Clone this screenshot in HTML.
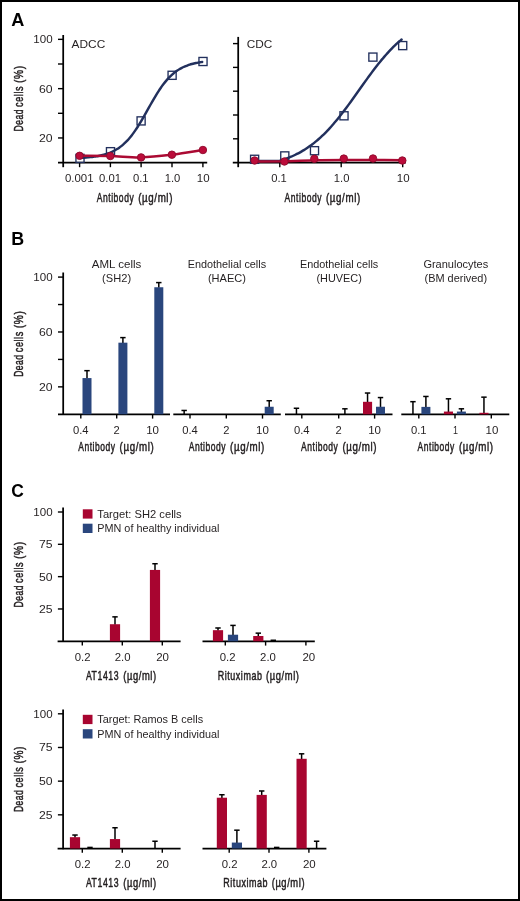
<!DOCTYPE html>
<html lang="en"><head><meta charset="utf-8"><title>Figure</title>
<style>
html,body{margin:0;padding:0;background:#fff;}
svg{display:block;font-family:'Liberation Sans', Arial, Helvetica, sans-serif;will-change:transform;}
</style></head>
<body>
<svg width="520" height="901" viewBox="0 0 520 901">
<rect x="0" y="0" width="520" height="901" fill="#fff"/>
<rect x="1" y="1" width="518" height="899" fill="none" stroke="#000" stroke-width="2"/>
<text x="11.2" y="25.6" font-size="17.8" font-weight="bold" fill="#000" textLength="13.1" lengthAdjust="spacingAndGlyphs">A</text>
<text x="11.2" y="244.5" font-size="17.8" font-weight="bold" fill="#000" textLength="12.9" lengthAdjust="spacingAndGlyphs">B</text>
<text x="11.2" y="496.7" font-size="18.2" font-weight="bold" fill="#000" textLength="12.6" lengthAdjust="spacingAndGlyphs">C</text>
<line x1="63.20" y1="35.00" x2="63.20" y2="167.20" stroke="#000" stroke-width="1.75" stroke-linecap="butt"/>
<line x1="58.00" y1="39.35" x2="63.30" y2="39.35" stroke="#000" stroke-width="1.4" stroke-linecap="butt"/>
<line x1="58.00" y1="64.00" x2="63.30" y2="64.00" stroke="#000" stroke-width="1.4" stroke-linecap="butt"/>
<line x1="58.00" y1="88.65" x2="63.30" y2="88.65" stroke="#000" stroke-width="1.4" stroke-linecap="butt"/>
<line x1="58.00" y1="113.30" x2="63.30" y2="113.30" stroke="#000" stroke-width="1.4" stroke-linecap="butt"/>
<line x1="58.00" y1="137.95" x2="63.30" y2="137.95" stroke="#000" stroke-width="1.4" stroke-linecap="butt"/>
<text x="52.60" y="43.30" font-size="11.0" text-anchor="end" fill="#231f20" textLength="19.30" lengthAdjust="spacingAndGlyphs">100</text>
<text x="52.60" y="92.60" font-size="11.0" text-anchor="end" fill="#231f20" textLength="13.60" lengthAdjust="spacingAndGlyphs">60</text>
<text x="52.60" y="141.90" font-size="11.0" text-anchor="end" fill="#231f20" textLength="13.60" lengthAdjust="spacingAndGlyphs">20</text>
<line x1="58.00" y1="162.60" x2="207.20" y2="162.60" stroke="#000" stroke-width="1.75" stroke-linecap="butt"/>
<line x1="79.60" y1="162.60" x2="79.60" y2="167.20" stroke="#000" stroke-width="1.4" stroke-linecap="butt"/>
<line x1="110.40" y1="162.60" x2="110.40" y2="167.20" stroke="#000" stroke-width="1.4" stroke-linecap="butt"/>
<line x1="141.10" y1="162.60" x2="141.10" y2="167.20" stroke="#000" stroke-width="1.4" stroke-linecap="butt"/>
<line x1="172.00" y1="162.60" x2="172.00" y2="167.20" stroke="#000" stroke-width="1.4" stroke-linecap="butt"/>
<line x1="202.90" y1="162.60" x2="202.90" y2="167.20" stroke="#000" stroke-width="1.4" stroke-linecap="butt"/>
<text x="79.20" y="182.20" font-size="11.0" text-anchor="middle" fill="#231f20" textLength="28.60" lengthAdjust="spacingAndGlyphs">0.001</text>
<text x="110.00" y="182.20" font-size="11.0" text-anchor="middle" fill="#231f20" textLength="22.00" lengthAdjust="spacingAndGlyphs">0.01</text>
<text x="140.70" y="182.20" font-size="11.0" text-anchor="middle" fill="#231f20" textLength="15.60" lengthAdjust="spacingAndGlyphs">0.1</text>
<text x="172.50" y="182.20" font-size="11.0" text-anchor="middle" fill="#231f20" textLength="15.60" lengthAdjust="spacingAndGlyphs">1.0</text>
<text x="203.20" y="182.20" font-size="11.0" text-anchor="middle" fill="#231f20" textLength="12.80" lengthAdjust="spacingAndGlyphs">10</text>
<text x="71.60" y="48.40" font-size="11.0" text-anchor="start" fill="#231f20" textLength="33.60" lengthAdjust="spacingAndGlyphs">ADCC</text>
<text y="202.20" font-size="12.8" fill="#231f20" stroke="#231f20" stroke-width="0.5" stroke-linejoin="round" letter-spacing="0.8"><tspan x="96.80" textLength="37.40" lengthAdjust="spacingAndGlyphs">Antibody</tspan> <tspan x="138.20" textLength="34.80" lengthAdjust="spacingAndGlyphs">(µg/ml)</tspan></text>
<text y="98.70" font-size="13.4" fill="#231f20" stroke="#231f20" stroke-width="0.5" stroke-linejoin="round" letter-spacing="0.8" transform="rotate(-90 23.40 98.70)"><tspan x="-9.40" textLength="22.40" lengthAdjust="spacingAndGlyphs">Dead</tspan> <tspan x="15.20" textLength="21.00" lengthAdjust="spacingAndGlyphs">cells</tspan> <tspan x="39.20" textLength="17.60" lengthAdjust="spacingAndGlyphs">(%)</tspan></text>
<path d="M79.80,157.92 C80.15,157.90 81.18,157.85 81.87,157.81 C82.57,157.76 83.26,157.72 83.95,157.67 C84.64,157.63 85.33,157.58 86.02,157.52 C86.72,157.47 87.41,157.41 88.10,157.35 C88.79,157.28 89.48,157.22 90.17,157.14 C90.86,157.07 91.56,156.99 92.25,156.91 C92.94,156.82 93.63,156.73 94.32,156.64 C95.01,156.54 95.71,156.43 96.40,156.32 C97.09,156.21 97.78,156.09 98.47,155.96 C99.16,155.83 99.85,155.69 100.55,155.54 C101.24,155.39 101.93,155.23 102.62,155.06 C103.31,154.88 104.00,154.70 104.69,154.50 C105.39,154.31 106.08,154.09 106.77,153.87 C107.46,153.64 108.15,153.40 108.84,153.14 C109.54,152.88 110.23,152.60 110.92,152.31 C111.61,152.01 112.30,151.70 112.99,151.36 C113.68,151.02 114.38,150.66 115.07,150.28 C115.76,149.89 116.45,149.49 117.14,149.05 C117.83,148.62 118.53,148.16 119.22,147.67 C119.91,147.19 120.60,146.67 121.29,146.12 C121.98,145.58 122.67,145.00 123.37,144.39 C124.06,143.78 124.75,143.13 125.44,142.46 C126.13,141.78 126.82,141.07 127.52,140.32 C128.21,139.57 128.90,138.79 129.59,137.97 C130.28,137.15 130.97,136.30 131.66,135.41 C132.36,134.52 133.05,133.59 133.74,132.63 C134.43,131.67 135.12,130.68 135.81,129.65 C136.51,128.63 137.20,127.57 137.89,126.49 C138.58,125.40 139.27,124.28 139.96,123.15 C140.65,122.01 141.35,120.84 142.04,119.66 C142.73,118.49 143.42,117.28 144.11,116.07 C144.80,114.86 145.49,113.63 146.19,112.40 C146.88,111.18 147.57,109.93 148.26,108.70 C148.95,107.47 149.64,106.23 150.34,105.01 C151.03,103.78 151.72,102.56 152.41,101.36 C153.10,100.16 153.79,98.97 154.48,97.80 C155.18,96.64 155.87,95.49 156.56,94.37 C157.25,93.25 157.94,92.15 158.63,91.09 C159.33,90.02 160.02,88.99 160.71,87.98 C161.40,86.98 162.09,86.01 162.78,85.08 C163.47,84.14 164.17,83.24 164.86,82.38 C165.55,81.51 166.24,80.68 166.93,79.89 C167.62,79.09 168.32,78.34 169.01,77.61 C169.70,76.89 170.39,76.21 171.08,75.55 C171.77,74.90 172.46,74.28 173.16,73.69 C173.85,73.10 174.54,72.55 175.23,72.02 C175.92,71.49 176.61,71.00 177.31,70.53 C178.00,70.06 178.69,69.62 179.38,69.21 C180.07,68.79 180.76,68.40 181.45,68.04 C182.15,67.67 182.84,67.33 183.53,67.01 C184.22,66.68 184.91,66.38 185.60,66.10 C186.29,65.82 186.99,65.55 187.68,65.30 C188.37,65.06 189.06,64.83 189.75,64.61 C190.44,64.39 191.14,64.19 191.83,64.00 C192.52,63.82 193.21,63.64 193.90,63.48 C194.59,63.31 195.28,63.16 195.98,63.02 C196.67,62.88 197.36,62.74 198.05,62.62 C198.74,62.50 199.43,62.38 200.13,62.27 C200.82,62.17 201.85,62.03 202.20,61.98" fill="none" stroke="#22305d" stroke-width="2.45" stroke-linecap="round" stroke-linejoin="round"/>
<rect x="75.95" y="154.35" width="8.1" height="8.1" fill="none" stroke="#22305d" stroke-width="1.35"/>
<rect x="106.45" y="147.65" width="8.1" height="8.1" fill="none" stroke="#22305d" stroke-width="1.35"/>
<rect x="137.05" y="116.85" width="8.1" height="8.1" fill="none" stroke="#22305d" stroke-width="1.35"/>
<rect x="168.05" y="71.25" width="8.1" height="8.1" fill="none" stroke="#22305d" stroke-width="1.35"/>
<rect x="198.95" y="57.45" width="8.1" height="8.1" fill="none" stroke="#22305d" stroke-width="1.35"/>
<path d="M79.60,155.80 C84.72,155.83 100.05,155.73 110.30,156.00 C120.55,156.27 130.83,157.62 141.10,157.40 C151.37,157.18 161.60,155.93 171.90,154.70 C182.20,153.47 197.73,150.78 202.90,150.00" fill="none" stroke="#ab0a33" stroke-width="2.45" stroke-linecap="round" stroke-linejoin="round"/>
<circle cx="79.60" cy="155.80" r="3.75" fill="#bb0c3a" stroke="#8e0a2c" stroke-width="0.9"/>
<circle cx="110.30" cy="156.00" r="3.75" fill="#bb0c3a" stroke="#8e0a2c" stroke-width="0.9"/>
<circle cx="141.10" cy="157.40" r="3.75" fill="#bb0c3a" stroke="#8e0a2c" stroke-width="0.9"/>
<circle cx="171.90" cy="154.70" r="3.75" fill="#bb0c3a" stroke="#8e0a2c" stroke-width="0.9"/>
<circle cx="202.90" cy="150.00" r="3.75" fill="#bb0c3a" stroke="#8e0a2c" stroke-width="0.9"/>
<line x1="238.20" y1="36.90" x2="238.20" y2="167.20" stroke="#000" stroke-width="1.75" stroke-linecap="butt"/>
<line x1="233.00" y1="43.60" x2="238.30" y2="43.60" stroke="#000" stroke-width="1.4" stroke-linecap="butt"/>
<line x1="233.00" y1="67.40" x2="238.30" y2="67.40" stroke="#000" stroke-width="1.4" stroke-linecap="butt"/>
<line x1="233.00" y1="91.20" x2="238.30" y2="91.20" stroke="#000" stroke-width="1.4" stroke-linecap="butt"/>
<line x1="233.00" y1="115.00" x2="238.30" y2="115.00" stroke="#000" stroke-width="1.4" stroke-linecap="butt"/>
<line x1="233.00" y1="138.80" x2="238.30" y2="138.80" stroke="#000" stroke-width="1.4" stroke-linecap="butt"/>
<line x1="232.80" y1="162.60" x2="405.80" y2="162.60" stroke="#000" stroke-width="1.75" stroke-linecap="butt"/>
<line x1="279.80" y1="162.60" x2="279.80" y2="167.20" stroke="#000" stroke-width="1.4" stroke-linecap="butt"/>
<line x1="341.20" y1="162.60" x2="341.20" y2="167.20" stroke="#000" stroke-width="1.4" stroke-linecap="butt"/>
<line x1="402.70" y1="162.60" x2="402.70" y2="167.20" stroke="#000" stroke-width="1.4" stroke-linecap="butt"/>
<text x="279.00" y="182.10" font-size="11.0" text-anchor="middle" fill="#231f20" textLength="15.60" lengthAdjust="spacingAndGlyphs">0.1</text>
<text x="341.60" y="182.10" font-size="11.0" text-anchor="middle" fill="#231f20" textLength="15.60" lengthAdjust="spacingAndGlyphs">1.0</text>
<text x="403.20" y="182.10" font-size="11.0" text-anchor="middle" fill="#231f20" textLength="12.80" lengthAdjust="spacingAndGlyphs">10</text>
<text x="246.80" y="48.20" font-size="11.0" text-anchor="start" fill="#231f20" textLength="25.60" lengthAdjust="spacingAndGlyphs">CDC</text>
<text y="201.90" font-size="12.8" fill="#231f20" stroke="#231f20" stroke-width="0.5" stroke-linejoin="round" letter-spacing="0.8"><tspan x="284.60" textLength="37.40" lengthAdjust="spacingAndGlyphs">Antibody</tspan> <tspan x="326.00" textLength="34.80" lengthAdjust="spacingAndGlyphs">(µg/ml)</tspan></text>
<path d="M255.00,161.05 C255.35,161.05 256.42,161.05 257.12,161.05 C257.83,161.05 258.54,161.05 259.25,161.05 C259.96,161.05 260.67,161.05 261.37,161.05 C262.08,161.05 262.79,161.05 263.50,161.05 C264.21,161.05 264.91,161.05 265.62,161.05 C266.33,161.05 267.04,161.05 267.75,161.05 C268.46,161.05 269.16,161.05 269.87,161.05 C270.58,161.05 271.29,161.05 272.00,161.05 C272.71,161.05 273.41,161.05 274.12,161.05 C274.83,161.05 275.54,161.05 276.25,161.05 C276.95,161.05 277.66,161.13 278.37,161.05 C279.08,160.97 279.79,160.77 280.50,160.58 C281.20,160.39 281.91,160.13 282.62,159.90 C283.33,159.67 284.04,159.42 284.74,159.17 C285.45,158.92 286.16,158.67 286.87,158.40 C287.58,158.13 288.29,157.86 288.99,157.57 C289.70,157.29 290.41,156.99 291.12,156.69 C291.83,156.39 292.54,156.08 293.24,155.75 C293.95,155.43 294.66,155.10 295.37,154.75 C296.08,154.41 296.78,154.06 297.49,153.69 C298.20,153.33 298.91,152.95 299.62,152.57 C300.33,152.18 301.03,151.78 301.74,151.37 C302.45,150.96 303.16,150.54 303.87,150.10 C304.57,149.67 305.28,149.22 305.99,148.76 C306.70,148.30 307.41,147.83 308.12,147.34 C308.82,146.86 309.53,146.36 310.24,145.85 C310.95,145.33 311.66,144.81 312.37,144.27 C313.07,143.73 313.78,143.18 314.49,142.61 C315.20,142.04 315.91,141.46 316.61,140.86 C317.32,140.27 318.03,139.66 318.74,139.03 C319.45,138.41 320.16,137.77 320.86,137.12 C321.57,136.46 322.28,135.80 322.99,135.11 C323.70,134.43 324.40,133.73 325.11,133.02 C325.82,132.31 326.53,131.58 327.24,130.84 C327.95,130.10 328.65,129.35 329.36,128.58 C330.07,127.81 330.78,127.03 331.49,126.24 C332.20,125.44 332.90,124.63 333.61,123.81 C334.32,122.99 335.03,122.15 335.74,121.30 C336.44,120.45 337.15,119.59 337.86,118.72 C338.57,117.85 339.28,116.96 339.99,116.07 C340.69,115.17 341.40,114.27 342.11,113.35 C342.82,112.44 343.53,111.51 344.23,110.58 C344.94,109.64 345.65,108.70 346.36,107.75 C347.07,106.79 347.78,105.83 348.48,104.87 C349.19,103.90 349.90,102.93 350.61,101.95 C351.32,100.97 352.03,99.99 352.73,99.00 C353.44,98.01 354.15,97.02 354.86,96.03 C355.57,95.03 356.27,94.03 356.98,93.04 C357.69,92.04 358.40,91.04 359.11,90.04 C359.82,89.04 360.52,88.04 361.23,87.04 C361.94,86.04 362.65,85.05 363.36,84.05 C364.06,83.06 364.77,82.07 365.48,81.08 C366.19,80.10 366.90,79.11 367.61,78.14 C368.31,77.16 369.02,76.19 369.73,75.23 C370.44,74.27 371.15,73.31 371.86,72.36 C372.56,71.41 373.27,70.47 373.98,69.54 C374.69,68.61 375.40,67.69 376.10,66.78 C376.81,65.86 377.52,64.96 378.23,64.07 C378.94,63.18 379.65,62.30 380.35,61.43 C381.06,60.57 381.77,59.71 382.48,58.87 C383.19,58.03 383.89,57.20 384.60,56.38 C385.31,55.56 386.02,54.76 386.73,53.97 C387.44,53.18 388.14,52.40 388.85,51.64 C389.56,50.88 390.27,50.13 390.98,49.39 C391.69,48.66 392.39,47.94 393.10,47.23 C393.81,46.53 394.52,45.84 395.23,45.16 C395.93,44.48 396.64,43.82 397.35,43.17 C398.06,42.53 398.77,41.89 399.48,41.28 C400.18,40.66 401.25,39.77 401.60,39.46" fill="none" stroke="#22305d" stroke-width="2.45" stroke-linecap="round" stroke-linejoin="round"/>
<rect x="250.55" y="155.25" width="8.1" height="8.1" fill="none" stroke="#22305d" stroke-width="1.35"/>
<rect x="280.75" y="151.85" width="8.1" height="8.1" fill="none" stroke="#22305d" stroke-width="1.35"/>
<rect x="310.45" y="146.65" width="8.1" height="8.1" fill="none" stroke="#22305d" stroke-width="1.35"/>
<rect x="339.95" y="111.75" width="8.1" height="8.1" fill="none" stroke="#22305d" stroke-width="1.35"/>
<rect x="368.85" y="53.05" width="8.1" height="8.1" fill="none" stroke="#22305d" stroke-width="1.35"/>
<rect x="398.65" y="41.55" width="8.1" height="8.1" fill="none" stroke="#22305d" stroke-width="1.35"/>
<path d="M254.60,161.50 C259.50,161.48 276.43,161.53 284.00,161.40 C291.57,161.27 294.00,160.90 300.00,160.70 C306.00,160.50 312.50,160.32 320.00,160.20 C327.50,160.08 335.83,160.03 345.00,160.00 C354.17,159.97 365.45,159.95 375.00,160.00 C384.55,160.05 397.75,160.25 402.30,160.30" fill="none" stroke="#ab0a33" stroke-width="2.45" stroke-linecap="round" stroke-linejoin="round"/>
<circle cx="254.60" cy="160.50" r="3.75" fill="#bb0c3a" stroke="#8e0a2c" stroke-width="0.9"/>
<circle cx="284.40" cy="161.50" r="3.75" fill="#bb0c3a" stroke="#8e0a2c" stroke-width="0.9"/>
<circle cx="314.30" cy="158.80" r="3.75" fill="#bb0c3a" stroke="#8e0a2c" stroke-width="0.9"/>
<circle cx="343.80" cy="158.60" r="3.75" fill="#bb0c3a" stroke="#8e0a2c" stroke-width="0.9"/>
<circle cx="373.00" cy="158.50" r="3.75" fill="#bb0c3a" stroke="#8e0a2c" stroke-width="0.9"/>
<circle cx="402.30" cy="160.50" r="3.75" fill="#bb0c3a" stroke="#8e0a2c" stroke-width="0.9"/>
<line x1="63.20" y1="272.50" x2="63.20" y2="415.00" stroke="#000" stroke-width="1.75" stroke-linecap="butt"/>
<line x1="58.00" y1="277.10" x2="63.30" y2="277.10" stroke="#000" stroke-width="1.4" stroke-linecap="butt"/>
<line x1="58.00" y1="304.54" x2="63.30" y2="304.54" stroke="#000" stroke-width="1.4" stroke-linecap="butt"/>
<line x1="58.00" y1="331.98" x2="63.30" y2="331.98" stroke="#000" stroke-width="1.4" stroke-linecap="butt"/>
<line x1="58.00" y1="359.42" x2="63.30" y2="359.42" stroke="#000" stroke-width="1.4" stroke-linecap="butt"/>
<line x1="58.00" y1="386.86" x2="63.30" y2="386.86" stroke="#000" stroke-width="1.4" stroke-linecap="butt"/>
<text x="52.60" y="281.05" font-size="11.0" text-anchor="end" fill="#231f20" textLength="19.30" lengthAdjust="spacingAndGlyphs">100</text>
<text x="52.60" y="335.93" font-size="11.0" text-anchor="end" fill="#231f20" textLength="13.60" lengthAdjust="spacingAndGlyphs">60</text>
<text x="52.60" y="390.81" font-size="11.0" text-anchor="end" fill="#231f20" textLength="13.60" lengthAdjust="spacingAndGlyphs">20</text>
<text y="344.00" font-size="13.4" fill="#231f20" stroke="#231f20" stroke-width="0.5" stroke-linejoin="round" letter-spacing="0.8" transform="rotate(-90 23.40 344.00)"><tspan x="-9.40" textLength="22.40" lengthAdjust="spacingAndGlyphs">Dead</tspan> <tspan x="15.20" textLength="21.00" lengthAdjust="spacingAndGlyphs">cells</tspan> <tspan x="39.20" textLength="17.60" lengthAdjust="spacingAndGlyphs">(%)</tspan></text>
<line x1="58.00" y1="414.30" x2="170.00" y2="414.30" stroke="#000" stroke-width="1.75" stroke-linecap="butt"/>
<line x1="80.80" y1="414.30" x2="80.80" y2="418.60" stroke="#000" stroke-width="1.4" stroke-linecap="butt"/>
<line x1="116.70" y1="414.30" x2="116.70" y2="418.60" stroke="#000" stroke-width="1.4" stroke-linecap="butt"/>
<line x1="152.60" y1="414.30" x2="152.60" y2="418.60" stroke="#000" stroke-width="1.4" stroke-linecap="butt"/>
<text x="80.80" y="433.70" font-size="11.0" text-anchor="middle" fill="#231f20" textLength="15.60" lengthAdjust="spacingAndGlyphs">0.4</text>
<text x="116.70" y="433.70" font-size="11.0" text-anchor="middle" fill="#231f20" textLength="6.20" lengthAdjust="spacingAndGlyphs">2</text>
<text x="152.60" y="433.70" font-size="11.0" text-anchor="middle" fill="#231f20" textLength="12.80" lengthAdjust="spacingAndGlyphs">10</text>
<text x="116.60" y="267.80" font-size="11.0" text-anchor="middle" fill="#231f20" textLength="49.60" lengthAdjust="spacingAndGlyphs">AML cells</text>
<text x="116.60" y="281.50" font-size="11.0" text-anchor="middle" fill="#231f20" textLength="29.00" lengthAdjust="spacingAndGlyphs">(SH2)</text>
<text y="451.00" font-size="12.8" fill="#231f20" stroke="#231f20" stroke-width="0.5" stroke-linejoin="round" letter-spacing="0.8"><tspan x="78.20" textLength="37.40" lengthAdjust="spacingAndGlyphs">Antibody</tspan> <tspan x="119.60" textLength="34.80" lengthAdjust="spacingAndGlyphs">(µg/ml)</tspan></text>
<line x1="87.00" y1="370.67" x2="87.00" y2="378.58" stroke="#000" stroke-width="1.5" stroke-linecap="butt"/>
<line x1="84.30" y1="370.67" x2="89.70" y2="370.67" stroke="#000" stroke-width="1.5" stroke-linecap="butt"/>
<rect x="82.50" y="378.08" width="9.00" height="36.22" fill="#2a467d"/>
<line x1="122.90" y1="337.61" x2="122.90" y2="343.18" stroke="#000" stroke-width="1.5" stroke-linecap="butt"/>
<line x1="120.20" y1="337.61" x2="125.60" y2="337.61" stroke="#000" stroke-width="1.5" stroke-linecap="butt"/>
<rect x="118.40" y="342.68" width="9.00" height="71.62" fill="#2a467d"/>
<line x1="158.80" y1="282.59" x2="158.80" y2="287.75" stroke="#000" stroke-width="1.5" stroke-linecap="butt"/>
<line x1="156.10" y1="282.59" x2="161.50" y2="282.59" stroke="#000" stroke-width="1.5" stroke-linecap="butt"/>
<rect x="154.30" y="287.25" width="9.00" height="127.05" fill="#2a467d"/>
<line x1="173.30" y1="414.30" x2="280.80" y2="414.30" stroke="#000" stroke-width="1.75" stroke-linecap="butt"/>
<line x1="190.00" y1="414.30" x2="190.00" y2="418.60" stroke="#000" stroke-width="1.4" stroke-linecap="butt"/>
<line x1="226.30" y1="414.30" x2="226.30" y2="418.60" stroke="#000" stroke-width="1.4" stroke-linecap="butt"/>
<line x1="262.50" y1="414.30" x2="262.50" y2="418.60" stroke="#000" stroke-width="1.4" stroke-linecap="butt"/>
<text x="190.00" y="433.70" font-size="11.0" text-anchor="middle" fill="#231f20" textLength="15.60" lengthAdjust="spacingAndGlyphs">0.4</text>
<text x="226.30" y="433.70" font-size="11.0" text-anchor="middle" fill="#231f20" textLength="6.20" lengthAdjust="spacingAndGlyphs">2</text>
<text x="262.50" y="433.70" font-size="11.0" text-anchor="middle" fill="#231f20" textLength="12.80" lengthAdjust="spacingAndGlyphs">10</text>
<text x="226.90" y="267.80" font-size="11.0" text-anchor="middle" fill="#231f20" textLength="78.40" lengthAdjust="spacingAndGlyphs">Endothelial cells</text>
<text x="226.90" y="281.50" font-size="11.0" text-anchor="middle" fill="#231f20" textLength="38.00" lengthAdjust="spacingAndGlyphs">(HAEC)</text>
<text y="451.00" font-size="12.8" fill="#231f20" stroke="#231f20" stroke-width="0.5" stroke-linejoin="round" letter-spacing="0.8"><tspan x="188.70" textLength="37.40" lengthAdjust="spacingAndGlyphs">Antibody</tspan> <tspan x="230.10" textLength="34.80" lengthAdjust="spacingAndGlyphs">(µg/ml)</tspan></text>
<line x1="184.15" y1="410.46" x2="184.15" y2="414.30" stroke="#000" stroke-width="1.5" stroke-linecap="butt"/>
<line x1="181.45" y1="410.46" x2="186.85" y2="410.46" stroke="#000" stroke-width="1.5" stroke-linecap="butt"/>
<rect x="179.60" y="414.30" width="9.10" height="0.00" fill="#a80530"/>
<line x1="269.20" y1="400.72" x2="269.20" y2="407.25" stroke="#000" stroke-width="1.5" stroke-linecap="butt"/>
<line x1="266.50" y1="400.72" x2="271.90" y2="400.72" stroke="#000" stroke-width="1.5" stroke-linecap="butt"/>
<rect x="264.70" y="406.75" width="9.00" height="7.55" fill="#2a467d"/>
<line x1="285.00" y1="414.30" x2="392.50" y2="414.30" stroke="#000" stroke-width="1.75" stroke-linecap="butt"/>
<line x1="301.80" y1="414.30" x2="301.80" y2="418.60" stroke="#000" stroke-width="1.4" stroke-linecap="butt"/>
<line x1="338.70" y1="414.30" x2="338.70" y2="418.60" stroke="#000" stroke-width="1.4" stroke-linecap="butt"/>
<line x1="374.60" y1="414.30" x2="374.60" y2="418.60" stroke="#000" stroke-width="1.4" stroke-linecap="butt"/>
<text x="301.80" y="433.70" font-size="11.0" text-anchor="middle" fill="#231f20" textLength="15.60" lengthAdjust="spacingAndGlyphs">0.4</text>
<text x="338.70" y="433.70" font-size="11.0" text-anchor="middle" fill="#231f20" textLength="6.20" lengthAdjust="spacingAndGlyphs">2</text>
<text x="374.60" y="433.70" font-size="11.0" text-anchor="middle" fill="#231f20" textLength="12.80" lengthAdjust="spacingAndGlyphs">10</text>
<text x="339.10" y="267.80" font-size="11.0" text-anchor="middle" fill="#231f20" textLength="78.40" lengthAdjust="spacingAndGlyphs">Endothelial cells</text>
<text x="339.10" y="281.50" font-size="11.0" text-anchor="middle" fill="#231f20" textLength="45.40" lengthAdjust="spacingAndGlyphs">(HUVEC)</text>
<text y="451.00" font-size="12.8" fill="#231f20" stroke="#231f20" stroke-width="0.5" stroke-linejoin="round" letter-spacing="0.8"><tspan x="301.00" textLength="37.40" lengthAdjust="spacingAndGlyphs">Antibody</tspan> <tspan x="342.40" textLength="34.80" lengthAdjust="spacingAndGlyphs">(µg/ml)</tspan></text>
<line x1="296.45" y1="408.26" x2="296.45" y2="414.30" stroke="#000" stroke-width="1.5" stroke-linecap="butt"/>
<line x1="293.75" y1="408.26" x2="299.15" y2="408.26" stroke="#000" stroke-width="1.5" stroke-linecap="butt"/>
<rect x="291.90" y="414.30" width="9.10" height="0.00" fill="#a80530"/>
<line x1="344.90" y1="408.81" x2="344.90" y2="414.30" stroke="#000" stroke-width="1.5" stroke-linecap="butt"/>
<line x1="342.20" y1="408.81" x2="347.60" y2="408.81" stroke="#000" stroke-width="1.5" stroke-linecap="butt"/>
<rect x="340.40" y="414.30" width="9.00" height="0.00" fill="#2a467d"/>
<line x1="367.55" y1="393.03" x2="367.55" y2="402.31" stroke="#000" stroke-width="1.5" stroke-linecap="butt"/>
<line x1="364.85" y1="393.03" x2="370.25" y2="393.03" stroke="#000" stroke-width="1.5" stroke-linecap="butt"/>
<rect x="363.00" y="401.81" width="9.10" height="12.49" fill="#a80530"/>
<line x1="380.50" y1="397.56" x2="380.50" y2="407.25" stroke="#000" stroke-width="1.5" stroke-linecap="butt"/>
<line x1="377.80" y1="397.56" x2="383.20" y2="397.56" stroke="#000" stroke-width="1.5" stroke-linecap="butt"/>
<rect x="376.00" y="406.75" width="9.00" height="7.55" fill="#2a467d"/>
<line x1="401.30" y1="414.30" x2="509.30" y2="414.30" stroke="#000" stroke-width="1.75" stroke-linecap="butt"/>
<line x1="418.80" y1="414.30" x2="418.80" y2="418.60" stroke="#000" stroke-width="1.4" stroke-linecap="butt"/>
<line x1="455.00" y1="414.30" x2="455.00" y2="418.60" stroke="#000" stroke-width="1.4" stroke-linecap="butt"/>
<line x1="491.30" y1="414.30" x2="491.30" y2="418.60" stroke="#000" stroke-width="1.4" stroke-linecap="butt"/>
<text x="418.80" y="433.70" font-size="11.0" text-anchor="middle" fill="#231f20" textLength="15.60" lengthAdjust="spacingAndGlyphs">0.1</text>
<text x="455.40" y="433.70" font-size="11.0" text-anchor="middle" fill="#231f20" textLength="5.00" lengthAdjust="spacingAndGlyphs">1</text>
<text x="491.90" y="433.70" font-size="11.0" text-anchor="middle" fill="#231f20" textLength="12.80" lengthAdjust="spacingAndGlyphs">10</text>
<text x="455.80" y="267.80" font-size="11.0" text-anchor="middle" fill="#231f20" textLength="64.80" lengthAdjust="spacingAndGlyphs">Granulocytes</text>
<text x="455.80" y="281.50" font-size="11.0" text-anchor="middle" fill="#231f20" textLength="62.60" lengthAdjust="spacingAndGlyphs">(BM derived)</text>
<text y="451.00" font-size="12.8" fill="#231f20" stroke="#231f20" stroke-width="0.5" stroke-linejoin="round" letter-spacing="0.8"><tspan x="417.50" textLength="37.40" lengthAdjust="spacingAndGlyphs">Antibody</tspan> <tspan x="458.90" textLength="34.80" lengthAdjust="spacingAndGlyphs">(µg/ml)</tspan></text>
<line x1="412.95" y1="401.68" x2="412.95" y2="414.30" stroke="#000" stroke-width="1.5" stroke-linecap="butt"/>
<line x1="410.25" y1="401.68" x2="415.65" y2="401.68" stroke="#000" stroke-width="1.5" stroke-linecap="butt"/>
<rect x="408.40" y="414.30" width="9.10" height="0.00" fill="#a80530"/>
<line x1="425.90" y1="396.46" x2="425.90" y2="407.39" stroke="#000" stroke-width="1.5" stroke-linecap="butt"/>
<line x1="423.20" y1="396.46" x2="428.60" y2="396.46" stroke="#000" stroke-width="1.5" stroke-linecap="butt"/>
<rect x="421.40" y="406.89" width="9.00" height="7.41" fill="#2a467d"/>
<line x1="448.45" y1="398.80" x2="448.45" y2="412.06" stroke="#000" stroke-width="1.5" stroke-linecap="butt"/>
<line x1="445.75" y1="398.80" x2="451.15" y2="398.80" stroke="#000" stroke-width="1.5" stroke-linecap="butt"/>
<rect x="443.90" y="411.56" width="9.10" height="2.74" fill="#a80530"/>
<line x1="461.40" y1="408.81" x2="461.40" y2="412.06" stroke="#000" stroke-width="1.5" stroke-linecap="butt"/>
<line x1="458.70" y1="408.81" x2="464.10" y2="408.81" stroke="#000" stroke-width="1.5" stroke-linecap="butt"/>
<rect x="456.90" y="411.56" width="9.00" height="2.74" fill="#2a467d"/>
<line x1="483.95" y1="397.15" x2="483.95" y2="413.29" stroke="#000" stroke-width="1.5" stroke-linecap="butt"/>
<line x1="481.25" y1="397.15" x2="486.65" y2="397.15" stroke="#000" stroke-width="1.5" stroke-linecap="butt"/>
<rect x="479.40" y="412.79" width="9.10" height="1.51" fill="#a80530"/>
<line x1="63.10" y1="507.50" x2="63.10" y2="642.00" stroke="#000" stroke-width="1.75" stroke-linecap="butt"/>
<line x1="57.90" y1="512.00" x2="63.20" y2="512.00" stroke="#000" stroke-width="1.4" stroke-linecap="butt"/>
<line x1="57.90" y1="544.32" x2="63.20" y2="544.32" stroke="#000" stroke-width="1.4" stroke-linecap="butt"/>
<line x1="57.90" y1="576.65" x2="63.20" y2="576.65" stroke="#000" stroke-width="1.4" stroke-linecap="butt"/>
<line x1="57.90" y1="608.97" x2="63.20" y2="608.97" stroke="#000" stroke-width="1.4" stroke-linecap="butt"/>
<text x="52.60" y="515.95" font-size="11.0" text-anchor="end" fill="#231f20" textLength="19.30" lengthAdjust="spacingAndGlyphs">100</text>
<text x="52.60" y="548.27" font-size="11.0" text-anchor="end" fill="#231f20" textLength="13.60" lengthAdjust="spacingAndGlyphs">75</text>
<text x="52.60" y="580.60" font-size="11.0" text-anchor="end" fill="#231f20" textLength="13.60" lengthAdjust="spacingAndGlyphs">50</text>
<text x="52.60" y="612.92" font-size="11.0" text-anchor="end" fill="#231f20" textLength="13.60" lengthAdjust="spacingAndGlyphs">25</text>
<text y="574.70" font-size="13.4" fill="#231f20" stroke="#231f20" stroke-width="0.5" stroke-linejoin="round" letter-spacing="0.8" transform="rotate(-90 23.40 574.70)"><tspan x="-9.40" textLength="22.40" lengthAdjust="spacingAndGlyphs">Dead</tspan> <tspan x="15.20" textLength="21.00" lengthAdjust="spacingAndGlyphs">cells</tspan> <tspan x="39.20" textLength="17.60" lengthAdjust="spacingAndGlyphs">(%)</tspan></text>
<rect x="82.80" y="509.30" width="9.70" height="9.30" fill="#a80530"/>
<rect x="82.80" y="523.70" width="9.70" height="9.30" fill="#2a467d"/>
<text x="97.30" y="517.90" font-size="11.0" text-anchor="start" fill="#231f20" textLength="84.40" lengthAdjust="spacingAndGlyphs">Target: SH2 cells</text>
<text x="97.30" y="532.40" font-size="11.0" text-anchor="start" fill="#231f20" textLength="122.20" lengthAdjust="spacingAndGlyphs">PMN of healthy individual</text>
<line x1="57.60" y1="641.30" x2="180.60" y2="641.30" stroke="#000" stroke-width="1.75" stroke-linecap="butt"/>
<line x1="82.30" y1="641.30" x2="82.30" y2="645.60" stroke="#000" stroke-width="1.4" stroke-linecap="butt"/>
<line x1="122.30" y1="641.30" x2="122.30" y2="645.60" stroke="#000" stroke-width="1.4" stroke-linecap="butt"/>
<line x1="162.30" y1="641.30" x2="162.30" y2="645.60" stroke="#000" stroke-width="1.4" stroke-linecap="butt"/>
<text x="82.60" y="660.50" font-size="11.0" text-anchor="middle" fill="#231f20" textLength="15.80" lengthAdjust="spacingAndGlyphs">0.2</text>
<text x="122.60" y="660.50" font-size="11.0" text-anchor="middle" fill="#231f20" textLength="15.80" lengthAdjust="spacingAndGlyphs">2.0</text>
<text x="162.60" y="660.50" font-size="11.0" text-anchor="middle" fill="#231f20" textLength="12.80" lengthAdjust="spacingAndGlyphs">20</text>
<text y="679.70" font-size="12.8" fill="#231f20" stroke="#231f20" stroke-width="0.5" stroke-linejoin="round" letter-spacing="0.8"><tspan x="85.90" textLength="33.20" lengthAdjust="spacingAndGlyphs">AT1413</tspan> <tspan x="123.30" textLength="33.40" lengthAdjust="spacingAndGlyphs">(µg/ml)</tspan></text>
<line x1="202.50" y1="641.30" x2="314.80" y2="641.30" stroke="#000" stroke-width="1.75" stroke-linecap="butt"/>
<line x1="225.30" y1="641.30" x2="225.30" y2="645.60" stroke="#000" stroke-width="1.4" stroke-linecap="butt"/>
<line x1="265.60" y1="641.30" x2="265.60" y2="645.60" stroke="#000" stroke-width="1.4" stroke-linecap="butt"/>
<line x1="305.90" y1="641.30" x2="305.90" y2="645.60" stroke="#000" stroke-width="1.4" stroke-linecap="butt"/>
<text x="227.60" y="660.50" font-size="11.0" text-anchor="middle" fill="#231f20" textLength="15.80" lengthAdjust="spacingAndGlyphs">0.2</text>
<text x="268.00" y="660.50" font-size="11.0" text-anchor="middle" fill="#231f20" textLength="15.80" lengthAdjust="spacingAndGlyphs">2.0</text>
<text x="308.80" y="660.50" font-size="11.0" text-anchor="middle" fill="#231f20" textLength="12.80" lengthAdjust="spacingAndGlyphs">20</text>
<text y="679.50" font-size="12.8" fill="#231f20" stroke="#231f20" stroke-width="0.5" stroke-linejoin="round" letter-spacing="0.8"><tspan x="217.70" textLength="44.80" lengthAdjust="spacingAndGlyphs">Rituximab</tspan> <tspan x="266.10" textLength="33.40" lengthAdjust="spacingAndGlyphs">(µg/ml)</tspan></text>
<line x1="115.00" y1="616.86" x2="115.00" y2="624.73" stroke="#000" stroke-width="1.5" stroke-linecap="butt"/>
<line x1="112.30" y1="616.86" x2="117.70" y2="616.86" stroke="#000" stroke-width="1.5" stroke-linecap="butt"/>
<rect x="109.90" y="624.23" width="10.20" height="17.07" fill="#a80530"/>
<line x1="155.00" y1="563.72" x2="155.00" y2="570.43" stroke="#000" stroke-width="1.5" stroke-linecap="butt"/>
<line x1="152.30" y1="563.72" x2="157.70" y2="563.72" stroke="#000" stroke-width="1.5" stroke-linecap="butt"/>
<rect x="149.90" y="569.93" width="10.20" height="71.37" fill="#a80530"/>
<line x1="218.00" y1="627.98" x2="218.00" y2="630.68" stroke="#000" stroke-width="1.5" stroke-linecap="butt"/>
<line x1="215.30" y1="627.98" x2="220.70" y2="627.98" stroke="#000" stroke-width="1.5" stroke-linecap="butt"/>
<rect x="212.90" y="630.18" width="10.20" height="11.12" fill="#a80530"/>
<line x1="233.00" y1="625.40" x2="233.00" y2="635.21" stroke="#000" stroke-width="1.5" stroke-linecap="butt"/>
<line x1="230.30" y1="625.40" x2="235.70" y2="625.40" stroke="#000" stroke-width="1.5" stroke-linecap="butt"/>
<rect x="227.90" y="634.71" width="10.20" height="6.59" fill="#2a467d"/>
<line x1="258.30" y1="633.15" x2="258.30" y2="636.50" stroke="#000" stroke-width="1.5" stroke-linecap="butt"/>
<line x1="255.60" y1="633.15" x2="261.00" y2="633.15" stroke="#000" stroke-width="1.5" stroke-linecap="butt"/>
<rect x="253.20" y="636.00" width="10.20" height="5.30" fill="#a80530"/>
<line x1="273.30" y1="640.27" x2="273.30" y2="641.30" stroke="#000" stroke-width="1.5" stroke-linecap="butt"/>
<line x1="270.60" y1="640.27" x2="276.00" y2="640.27" stroke="#000" stroke-width="1.5" stroke-linecap="butt"/>
<rect x="268.20" y="641.30" width="10.20" height="0.00" fill="#2a467d"/>
<line x1="63.10" y1="709.50" x2="63.10" y2="849.20" stroke="#000" stroke-width="1.75" stroke-linecap="butt"/>
<line x1="57.90" y1="713.80" x2="63.20" y2="713.80" stroke="#000" stroke-width="1.4" stroke-linecap="butt"/>
<line x1="57.90" y1="747.48" x2="63.20" y2="747.48" stroke="#000" stroke-width="1.4" stroke-linecap="butt"/>
<line x1="57.90" y1="781.15" x2="63.20" y2="781.15" stroke="#000" stroke-width="1.4" stroke-linecap="butt"/>
<line x1="57.90" y1="814.83" x2="63.20" y2="814.83" stroke="#000" stroke-width="1.4" stroke-linecap="butt"/>
<text x="52.60" y="717.75" font-size="11.0" text-anchor="end" fill="#231f20" textLength="19.30" lengthAdjust="spacingAndGlyphs">100</text>
<text x="52.60" y="751.43" font-size="11.0" text-anchor="end" fill="#231f20" textLength="13.60" lengthAdjust="spacingAndGlyphs">75</text>
<text x="52.60" y="785.10" font-size="11.0" text-anchor="end" fill="#231f20" textLength="13.60" lengthAdjust="spacingAndGlyphs">50</text>
<text x="52.60" y="818.78" font-size="11.0" text-anchor="end" fill="#231f20" textLength="13.60" lengthAdjust="spacingAndGlyphs">25</text>
<text y="779.30" font-size="13.4" fill="#231f20" stroke="#231f20" stroke-width="0.5" stroke-linejoin="round" letter-spacing="0.8" transform="rotate(-90 23.40 779.30)"><tspan x="-9.40" textLength="22.40" lengthAdjust="spacingAndGlyphs">Dead</tspan> <tspan x="15.20" textLength="21.00" lengthAdjust="spacingAndGlyphs">cells</tspan> <tspan x="39.20" textLength="17.60" lengthAdjust="spacingAndGlyphs">(%)</tspan></text>
<rect x="82.80" y="714.80" width="9.70" height="9.30" fill="#a80530"/>
<rect x="82.80" y="729.20" width="9.70" height="9.30" fill="#2a467d"/>
<text x="97.30" y="723.40" font-size="11.0" text-anchor="start" fill="#231f20" textLength="105.80" lengthAdjust="spacingAndGlyphs">Target: Ramos B cells</text>
<text x="97.30" y="737.90" font-size="11.0" text-anchor="start" fill="#231f20" textLength="122.20" lengthAdjust="spacingAndGlyphs">PMN of healthy individual</text>
<line x1="57.60" y1="848.50" x2="180.60" y2="848.50" stroke="#000" stroke-width="1.75" stroke-linecap="butt"/>
<line x1="82.30" y1="848.50" x2="82.30" y2="852.80" stroke="#000" stroke-width="1.4" stroke-linecap="butt"/>
<line x1="122.30" y1="848.50" x2="122.30" y2="852.80" stroke="#000" stroke-width="1.4" stroke-linecap="butt"/>
<line x1="162.30" y1="848.50" x2="162.30" y2="852.80" stroke="#000" stroke-width="1.4" stroke-linecap="butt"/>
<text x="82.60" y="867.70" font-size="11.0" text-anchor="middle" fill="#231f20" textLength="15.80" lengthAdjust="spacingAndGlyphs">0.2</text>
<text x="122.60" y="867.70" font-size="11.0" text-anchor="middle" fill="#231f20" textLength="15.80" lengthAdjust="spacingAndGlyphs">2.0</text>
<text x="162.60" y="867.70" font-size="11.0" text-anchor="middle" fill="#231f20" textLength="12.80" lengthAdjust="spacingAndGlyphs">20</text>
<text y="886.90" font-size="12.8" fill="#231f20" stroke="#231f20" stroke-width="0.5" stroke-linejoin="round" letter-spacing="0.8"><tspan x="85.90" textLength="33.20" lengthAdjust="spacingAndGlyphs">AT1413</tspan> <tspan x="123.30" textLength="33.40" lengthAdjust="spacingAndGlyphs">(µg/ml)</tspan></text>
<line x1="202.50" y1="848.50" x2="326.40" y2="848.50" stroke="#000" stroke-width="1.75" stroke-linecap="butt"/>
<line x1="229.20" y1="848.50" x2="229.20" y2="852.80" stroke="#000" stroke-width="1.4" stroke-linecap="butt"/>
<line x1="269.00" y1="848.50" x2="269.00" y2="852.80" stroke="#000" stroke-width="1.4" stroke-linecap="butt"/>
<line x1="308.90" y1="848.50" x2="308.90" y2="852.80" stroke="#000" stroke-width="1.4" stroke-linecap="butt"/>
<text x="229.60" y="867.70" font-size="11.0" text-anchor="middle" fill="#231f20" textLength="15.80" lengthAdjust="spacingAndGlyphs">0.2</text>
<text x="269.30" y="867.70" font-size="11.0" text-anchor="middle" fill="#231f20" textLength="15.80" lengthAdjust="spacingAndGlyphs">2.0</text>
<text x="309.30" y="867.70" font-size="11.0" text-anchor="middle" fill="#231f20" textLength="12.80" lengthAdjust="spacingAndGlyphs">20</text>
<text y="886.70" font-size="12.8" fill="#231f20" stroke="#231f20" stroke-width="0.5" stroke-linejoin="round" letter-spacing="0.8"><tspan x="223.30" textLength="44.80" lengthAdjust="spacingAndGlyphs">Rituximab</tspan> <tspan x="271.70" textLength="33.40" lengthAdjust="spacingAndGlyphs">(µg/ml)</tspan></text>
<line x1="75.00" y1="835.03" x2="75.00" y2="837.69" stroke="#000" stroke-width="1.5" stroke-linecap="butt"/>
<line x1="72.30" y1="835.03" x2="77.70" y2="835.03" stroke="#000" stroke-width="1.5" stroke-linecap="butt"/>
<rect x="69.90" y="837.19" width="10.20" height="11.31" fill="#a80530"/>
<line x1="90.00" y1="847.42" x2="90.00" y2="848.50" stroke="#000" stroke-width="1.5" stroke-linecap="butt"/>
<line x1="87.30" y1="847.42" x2="92.70" y2="847.42" stroke="#000" stroke-width="1.5" stroke-linecap="butt"/>
<rect x="84.90" y="848.50" width="10.20" height="0.00" fill="#2a467d"/>
<line x1="115.00" y1="827.76" x2="115.00" y2="839.57" stroke="#000" stroke-width="1.5" stroke-linecap="butt"/>
<line x1="112.30" y1="827.76" x2="117.70" y2="827.76" stroke="#000" stroke-width="1.5" stroke-linecap="butt"/>
<rect x="109.90" y="839.07" width="10.20" height="9.43" fill="#a80530"/>
<line x1="155.00" y1="841.23" x2="155.00" y2="848.50" stroke="#000" stroke-width="1.5" stroke-linecap="butt"/>
<line x1="152.30" y1="841.23" x2="157.70" y2="841.23" stroke="#000" stroke-width="1.5" stroke-linecap="butt"/>
<rect x="149.90" y="848.50" width="10.20" height="0.00" fill="#a80530"/>
<line x1="221.90" y1="794.75" x2="221.90" y2="798.22" stroke="#000" stroke-width="1.5" stroke-linecap="butt"/>
<line x1="219.20" y1="794.75" x2="224.60" y2="794.75" stroke="#000" stroke-width="1.5" stroke-linecap="butt"/>
<rect x="216.80" y="797.72" width="10.20" height="50.78" fill="#a80530"/>
<line x1="236.90" y1="830.18" x2="236.90" y2="843.07" stroke="#000" stroke-width="1.5" stroke-linecap="butt"/>
<line x1="234.20" y1="830.18" x2="239.60" y2="830.18" stroke="#000" stroke-width="1.5" stroke-linecap="butt"/>
<rect x="231.80" y="842.57" width="10.20" height="5.93" fill="#2a467d"/>
<line x1="261.70" y1="790.98" x2="261.70" y2="795.39" stroke="#000" stroke-width="1.5" stroke-linecap="butt"/>
<line x1="259.00" y1="790.98" x2="264.40" y2="790.98" stroke="#000" stroke-width="1.5" stroke-linecap="butt"/>
<rect x="256.60" y="794.89" width="10.20" height="53.61" fill="#a80530"/>
<line x1="276.70" y1="847.42" x2="276.70" y2="848.50" stroke="#000" stroke-width="1.5" stroke-linecap="butt"/>
<line x1="274.00" y1="847.42" x2="279.40" y2="847.42" stroke="#000" stroke-width="1.5" stroke-linecap="butt"/>
<rect x="271.60" y="848.50" width="10.20" height="0.00" fill="#2a467d"/>
<line x1="301.60" y1="753.81" x2="301.60" y2="759.29" stroke="#000" stroke-width="1.5" stroke-linecap="butt"/>
<line x1="298.90" y1="753.81" x2="304.30" y2="753.81" stroke="#000" stroke-width="1.5" stroke-linecap="butt"/>
<rect x="296.50" y="758.79" width="10.20" height="89.71" fill="#a80530"/>
<line x1="316.60" y1="841.23" x2="316.60" y2="848.50" stroke="#000" stroke-width="1.5" stroke-linecap="butt"/>
<line x1="313.90" y1="841.23" x2="319.30" y2="841.23" stroke="#000" stroke-width="1.5" stroke-linecap="butt"/>
<rect x="311.50" y="848.50" width="10.20" height="0.00" fill="#2a467d"/>
</svg>
</body></html>
